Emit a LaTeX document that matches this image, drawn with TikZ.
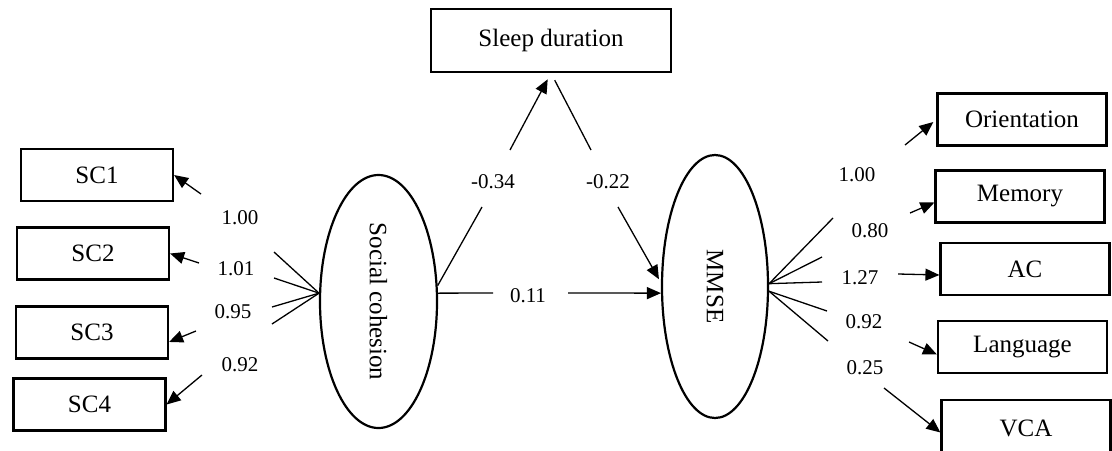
\documentclass[tikz,border=0pt]{standalone}
\usepackage{fontspec}
\setmainfont{Liberation Serif}
\usetikzlibrary{arrows.meta,shapes.geometric}

\begin{document}
\begin{tikzpicture}[
    x=0.5pt, y=-0.5pt,
    box/.style={rectangle, draw, line width=1.1pt, minimum width=76pt, minimum height=26pt, inner sep=0pt, font=\fontsize{12.5}{15}\selectfont},
    latent/.style={ellipse, draw, line width=1.1pt, inner sep=0pt, font=\fontsize{12.5}{15}\selectfont},
    num/.style={inner sep=1pt, font=\fontsize{10.5}{12}\selectfont},
    line/.style={line width=0.65pt},
    arrow/.style={line width=0.65pt, -{Triangle[length=7pt, width=6pt]}}
]
\useasboundingbox (0,0) rectangle (1112,450);

\node[box, minimum width=120pt, minimum height=31.5pt] (sleep) at (551,40.5) {Sleep duration};
\node[latent, minimum width=58.5pt, minimum height=126.5pt] (sc) at (378.5,301.5) {\rotatebox{-90}{Social cohesion}};
\node[latent, minimum width=53pt, minimum height=131.5pt] (mmse) at (715,286.5) {\rotatebox{-90}{MMSE}};

\node[box] (sc1) at (97,175) {SC1};
\node[box] (sc2) at (93,253.5) {SC2};
\node[box] (sc3) at (92,332.5) {SC3};
\node[box] (sc4) at (89.5,404.5) {SC4};

\node[box, minimum width=84.5pt] (orient) at (1022,119.5) {Orientation};
\node[box, minimum width=84.5pt] (memory) at (1020,196.5) {Memory};
\node[box, minimum width=84.5pt] (ac) at (1025,269) {AC};
\node[box, minimum width=84.5pt] (lang) at (1022.5,347) {Language};
\node[box, minimum width=84.5pt, minimum height=28pt] (vca) at (1026,428) {VCA};

\node[num] (w1) at (240,218) {1.00};
\node[num] (w2) at (236,269) {1.01};
\node[num] (w3) at (233,312) {0.95};
\node[num] (w4) at (240,365) {0.92};
\node[num] (wa) at (493,182) {-0.34};
\node[num] (wb) at (608,182) {-0.22};
\node[num] (wc) at (528,296) {0.11};
\node[num] (v1) at (857,175) {1.00};
\node[num] (v2) at (870,231) {0.80};
\node[num] (v3) at (860,278) {1.27};
\node[num] (v4) at (864,322) {0.92};
\node[num] (v5) at (865,368) {0.25};

\coordinate (s1a) at (274,252); \coordinate (s1b) at (201,194);
\coordinate (s2a) at (274,278); \coordinate (s2b) at (199,263);
\coordinate (s3a) at (272,307); \coordinate (s3b) at (196,331);
\coordinate (s4a) at (272,324); \coordinate (s4b) at (202,375);
\coordinate (m1a) at (482,207); \coordinate (m1b) at (510,150);
\coordinate (m2a) at (591,150); \coordinate (m2b) at (618,207);
\coordinate (d1a) at (493,293); \coordinate (d1b) at (568,293);
\coordinate (o1a) at (833,218); \coordinate (o1b) at (905,145);
\coordinate (o2a) at (822,257); \coordinate (o2b) at (910,213);
\coordinate (o3a) at (822,282); \coordinate (o3b) at (898,274);
\coordinate (o4a) at (827,311); \coordinate (o4b) at (909,342);
\coordinate (o5a) at (828,341); \coordinate (o5b) at (884,388);

\draw[line] (sc.172) -- (s1a);
\draw[arrow] (s1b) -- (sc1.east);
\draw[line] (sc.172) -- (s2a);
\draw[arrow] (s2b) -- (sc2.east);
\draw[line] (sc.172) -- (s3a);
\draw[arrow] (s3b) -- (sc3.-7);
\draw[line] (sc.172) -- (s4a);
\draw[arrow] (s4b) -- (sc4.east);

\draw[line] (sc.15) -- (m1a);
\draw[arrow, shorten >=3.5pt] (m1b) -- (sleep.south);
\draw[line, shorten <=4pt] (sleep.south) -- (m2a);
\draw[arrow, shorten >=2pt] (m2b) -- (mmse.176);
\draw[line] (sc.8) -- (d1a);
\draw[arrow] (d1b) -- (mmse.-173);

\draw[line] (mmse.3) -- (o1a);
\draw[arrow, shorten >=2pt] (o1b) -- (orient.west);
\draw[line] (mmse.3) -- (o2a);
\draw[arrow] (o2b) -- (memory.184);
\draw[line] (mmse.3) -- (o3a);
\draw[arrow] (o3b) -- (ac.184);
\draw[line] (mmse.-5) -- (o4a);
\draw[arrow] (o4b) -- (lang.185);
\draw[line] (mmse.-5) -- (o5a);
\draw[arrow] (o5b) -- (vca.183);
\end{tikzpicture}
\end{document}
